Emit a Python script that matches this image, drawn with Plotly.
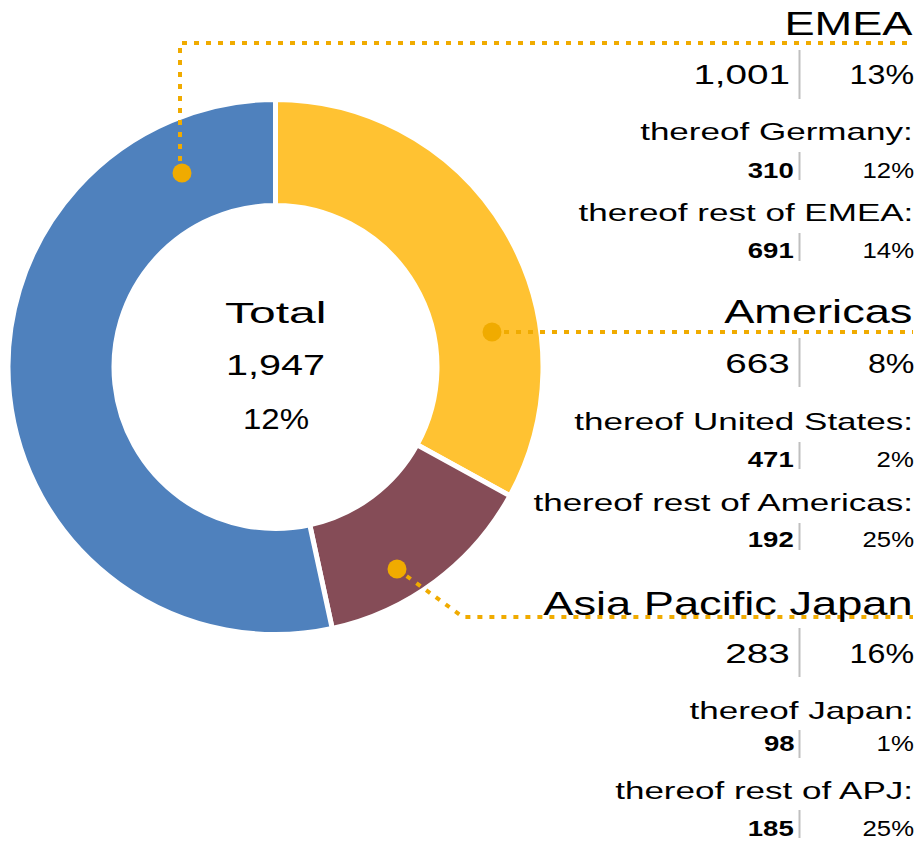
import json
import plotly.graph_objects as go

# ---------------- data ----------------
regions = ["EMEA", "Americas", "Asia Pacific Japan"]
region_values = [1001, 663, 283]
region_growth = ["13%", "8%", "16%"]
sub_labels = [["thereof Germany:", "thereof rest of EMEA:"],
              ["thereof United States:", "thereof rest of Americas:"],
              ["thereof Japan:", "thereof rest of APJ:"]]
sub_values = [[310, 691], [471, 192], [98, 185]]
sub_growth = [["12%", "14%"], ["2%", "25%"], ["1%", "25%"]]
total_label = "Total"
total_value = 1947
total_growth = "12%"
# donut slice shares (%) as drawn in the picture, clockwise from 12 o'clock
pie_order = ["Americas", "Asia Pacific Japan", "EMEA"]
donut_shares = [33.0, 13.6, 53.4]
region_colors = {"EMEA": "#4F81BD", "Americas": "#FFC232", "Asia Pacific Japan": "#854C57"}

# ---------------- layout constants (pixels) ----------------
W, H = 920, 841
CX, CY, R = 275.5, 367.0, 267.5
LINE_W = 5
FONT = "Liberation Sans, Arial, sans-serif"
GOLD = "#F0AB00"
SEP = "#BFBFBF"

title_y = [24, 311.5, 603]
main_y = [75, 364, 653.5]
sub1_y = [131, 421, 710]
v1_y = [170, 459, 743.5]
sub2_y = [212.5, 502, 790]
v2_y = [250.5, 539, 828]
main_sep = [(50, 99), (338, 387), (628, 677)]
v1_sep = [(152, 180), (442, 469), (730, 758)]
v2_sep = [(233, 261), (523, 550), (810, 838)]
dots = [(182, 173), (492, 332), (397, 569)]
connectors = [
    [(180, 173), (180, 43), (909, 43)],
    [(492, 332), (913, 332)],
    [(397, 569), (463, 617), (913, 617)],
]


def px(x):
    return x / W


def py(y):
    return 1 - y / H


fig = go.Figure()

fig.add_trace(go.Pie(
    labels=pie_order, values=donut_shares, sort=False, direction="clockwise", rotation=0,
    hole=(164 - LINE_W / 2) / R,
    marker=dict(colors=[region_colors[r] for r in pie_order],
                line=dict(color="white", width=LINE_W)),
    textinfo="none", hoverinfo="label", showlegend=False,
    domain=dict(x=[px(CX - R), px(CX + R)], y=[py(CY + R), py(CY - R)]),
))

shapes = []
annotations = []
stretch = []   # horizontal glyph stretch per annotation
anchors = []


def txt(x, y, s, size, k, anchor="right", bold=False):
    annotations.append(dict(
        x=px(x), y=py(y), xref="paper", yref="paper", text=s,
        showarrow=False, xanchor=anchor, yanchor="middle", borderpad=0,
        font=dict(family=FONT, size=size, color="#000000",
                  weight="bold" if bold else "normal"),
    ))
    stretch.append(k)
    anchors.append(anchor)


def seg(x0, y0, x1, y1, color, width):
    shapes.append(dict(type="line", xref="paper", yref="paper",
                       x0=px(x0), y0=py(y0), x1=px(x1), y1=py(y1),
                       line=dict(color=color, width=width), layer="above"))


# connectors
for pts in connectors:
    path = "M " + " L ".join(f"{px(x)},{py(y)}" for x, y in pts)
    shapes.append(dict(type="path", xref="paper", yref="paper", path=path,
                       line=dict(color=GOLD, width=4, dash="5px,7px"), layer="above"))
for x, y in dots:
    r = 9.5
    shapes.append(dict(type="circle", xref="paper", yref="paper",
                       x0=px(x - r), x1=px(x + r), y0=py(y + r), y1=py(y - r),
                       fillcolor=GOLD, line=dict(width=0), layer="above"))

NUM_R, BOLD_R, PCT_R, SEP_X, LAB_R = 791, 795, 914.5, 799.5, 913.5

for i, reg in enumerate(regions):
    txt(LAB_R, title_y[i], reg, 33, 1.37)
    txt(NUM_R, main_y[i], f"{region_values[i]:,}", 28, 1.38)
    txt(PCT_R, main_y[i], region_growth[i], 28, 1.15)
    seg(SEP_X, main_sep[i][0], SEP_X, main_sep[i][1], SEP, 2)
    txt(LAB_R, sub1_y[i], sub_labels[i][0], 24, 1.46)
    txt(BOLD_R, v1_y[i], f"{sub_values[i][0]:,}", 22, 1.25, bold=True)
    txt(PCT_R, v1_y[i], sub_growth[i][0], 22, 1.17)
    seg(SEP_X, v1_sep[i][0], SEP_X, v1_sep[i][1], SEP, 2)
    txt(LAB_R, sub2_y[i], sub_labels[i][1], 24, 1.46)
    txt(BOLD_R, v2_y[i], f"{sub_values[i][1]:,}", 22, 1.25, bold=True)
    txt(PCT_R, v2_y[i], sub_growth[i][1], 22, 1.17)
    seg(SEP_X, v2_sep[i][0], SEP_X, v2_sep[i][1], SEP, 2)

# centre
txt(CX, 312, total_label, 30, 1.6, anchor="center")
txt(CX, 365, f"{total_value:,}", 30, 1.32, anchor="center")
txt(CX, 419, total_growth, 30, 1.1, anchor="center")

fig.update_layout(
    width=W, height=H, margin=dict(l=0, r=0, t=0, b=0),
    paper_bgcolor="white", plot_bgcolor="white",
    shapes=shapes, annotations=annotations, showlegend=False,
)

post = """
document.body.style.margin = '0px';
var gd = document.getElementById('{plot_id}');
var ks = %s;
var an = %s;
gd.querySelectorAll('g.annotation').forEach(function(g){
  var i = +g.getAttribute('data-index');
  var t = g.querySelector('text.annotation-text');
  if(!t || isNaN(i)) return;
  var b = t.getBBox();
  var ax = an[i] === 'right' ? b.x + b.width : b.x + b.width / 2;
  t.setAttribute('transform', 'translate(' + ax + ',0) scale(' + ks[i] + ',1) translate(' + (-ax) + ',0)');
});
""" % (json.dumps(stretch), json.dumps(anchors))

fig.write_html("out.html", post_script=post, config={"displayModeBar": False})
